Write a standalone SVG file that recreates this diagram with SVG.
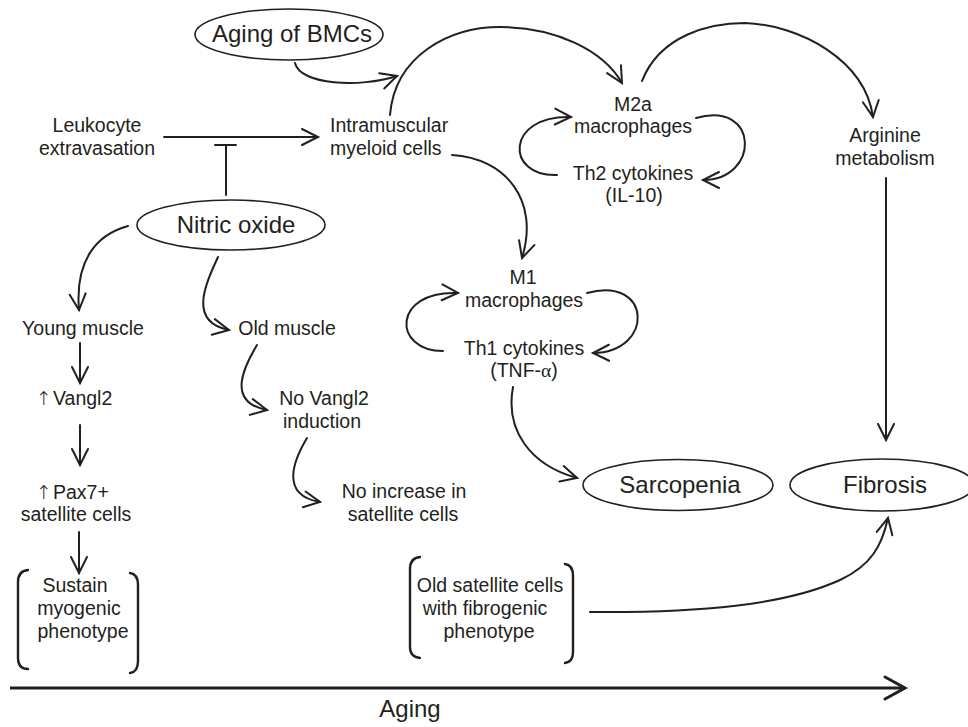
<svg xmlns="http://www.w3.org/2000/svg" width="968" height="727" viewBox="0 0 968 727">
<style>
  text { font-family: "Liberation Sans", Arial, "DejaVu Sans", sans-serif; fill: #231f20; }
  .s { font-size: 19.5px; }
  .b { font-size: 24px; }
  .m { text-anchor: middle; }
  .up { font-family: "DejaVu Sans", sans-serif; font-size: 19px; font-weight: 200; }
  .c { fill: none; stroke: #231f20; stroke-width: 2; stroke-linecap: round; }
  .e { fill: #fff; stroke: #231f20; stroke-width: 1.6; }
  .br { fill: none; stroke: #231f20; stroke-width: 2.4; stroke-linecap: round; }
</style>
<defs>
  <marker id="ah" markerUnits="userSpaceOnUse" markerWidth="40" markerHeight="40" viewBox="-20 -20 40 40" refX="0" refY="0" orient="auto">
    <path d="M -16 -8 L 0 0 L -16 8" fill="none" stroke="#231f20" stroke-width="2" stroke-linecap="round" stroke-linejoin="miter"/>
  </marker>
  <marker id="ahBig" markerUnits="userSpaceOnUse" markerWidth="50" markerHeight="50" viewBox="-25 -25 50 50" refX="0" refY="0" orient="auto">
    <path d="M -20 -11 L 0 0 L -20 11" fill="none" stroke="#231f20" stroke-width="3" stroke-linecap="round"/>
  </marker>
</defs>

<g id="connectors">
  <path class="c" d="M 295 63 C 300 85 360 88 397 76" marker-end="url(#ah)"/>
  <path class="c" d="M 390 115 C 395 55 450 27 500 27 C 555 27 603 50 622 83" marker-end="url(#ah)"/>
  <path class="c" d="M 642 81 C 660 35 710 23 745 23 C 800 25 865 60 873 117" marker-end="url(#ah)"/>
  <path class="c" d="M 164 137 L 318 137" marker-end="url(#ah)"/>
  <path class="c" d="M 226 195 L 226 146 M 215 145 L 236 145"/>
  <path class="c" d="M 452 155 C 505 158 540 200 522 258" marker-end="url(#ah)"/>
  <path class="c" d="M 557 175 C 505 177 505 115 571 117" marker-end="url(#ah)"/>
  <path class="c" d="M 696 118 C 760 100 760 180 703 180" marker-end="url(#ah)"/>
  <path class="c" d="M 443 351 C 392 351 392 290 458 293" marker-end="url(#ah)"/>
  <path class="c" d="M 587 293 C 652 275 655 352 593 353" marker-end="url(#ah)"/>
  <path class="c" d="M 513 387 C 505 430 530 465 577 478" marker-end="url(#ah)"/>
  <path class="c" d="M 886 178 L 886 440" marker-end="url(#ah)"/>
  <path class="c" d="M 128 226 C 95 235 75 262 79 310" marker-end="url(#ah)"/>
  <path class="c" d="M 218 257 C 205 285 188 322 229 330" marker-end="url(#ah)"/>
  <path class="c" d="M 80 343 L 80 383" marker-end="url(#ah)"/>
  <path class="c" d="M 80 425 L 80 465" marker-end="url(#ah)"/>
  <path class="c" d="M 79 532 L 79 573" marker-end="url(#ah)"/>
  <path class="c" d="M 257 345 C 245 365 225 402 267 410" marker-end="url(#ah)"/>
  <path class="c" d="M 307 438 C 295 458 278 495 320 502" marker-end="url(#ah)"/>
  <path class="c" d="M 590 612 C 700 613 785 605 840 580 C 872 565 882 545 888 518" marker-end="url(#ah)"/>
  <path d="M 10 688 L 905 688" fill="none" stroke="#231f20" stroke-width="3" marker-end="url(#ahBig)"/>
</g>

<g id="aging-bmcs">
  <ellipse class="e" cx="289" cy="34.5" rx="94" ry="25.5"/>
  <text class="b m" x="292" y="42">Aging of BMCs</text>
</g>
<g id="leukocyte">
  <text class="s m" x="97" y="132">Leukocyte</text>
  <text class="s m" x="97" y="155">extravasation</text>
</g>
<g id="intramuscular">
  <text class="s" x="330" y="132">Intramuscular</text>
  <text class="s" x="330" y="155">myeloid cells</text>
</g>
<g id="m2a">
  <text class="s m" x="633" y="111">M2a</text>
  <text class="s m" x="633" y="133">macrophages</text>
</g>
<g id="th2">
  <text class="s m" x="633" y="180">Th2 cytokines</text>
  <text class="s m" x="634" y="202">(IL-10)</text>
</g>
<g id="arginine">
  <text class="s m" x="885" y="142">Arginine</text>
  <text class="s m" x="885" y="165">metabolism</text>
</g>
<g id="nitric-oxide">
  <ellipse class="e" cx="231" cy="225" rx="94" ry="25"/>
  <text class="b m" x="236" y="233">Nitric oxide</text>
</g>
<g id="m1">
  <text class="s m" x="523" y="284">M1</text>
  <text class="s m" x="524" y="307">macrophages</text>
</g>
<g id="th1">
  <text class="s m" x="524" y="355">Th1 cytokines</text>
  <text class="s m" x="524" y="377">(TNF-<tspan font-family="'Liberation Serif', serif">α</tspan>)</text>
</g>
<g id="young-muscle">
  <text class="s m" x="83" y="335">Young muscle</text>
</g>
<g id="old-muscle">
  <text class="s m" x="287" y="335">Old muscle</text>
</g>
<g id="vangl2">
  <text class="s" x="36" y="405"><tspan class="up">↑</tspan><tspan x="53">Vangl2</tspan></text>
</g>
<g id="no-vangl2">
  <text class="s m" x="324" y="405">No Vangl2</text>
  <text class="s m" x="322" y="428">induction</text>
</g>
<g id="pax7">
  <text class="s" x="36" y="499"><tspan class="up">↑</tspan><tspan x="53">Pax7+</tspan></text>
  <text class="s m" x="76" y="521">satellite cells</text>
</g>
<g id="no-increase">
  <text class="s m" x="404" y="498">No increase in</text>
  <text class="s m" x="403" y="521">satellite cells</text>
</g>
<g id="sarcopenia">
  <ellipse class="e" cx="678" cy="485" rx="95" ry="25.5"/>
  <text class="b m" x="680" y="493">Sarcopenia</text>
</g>
<g id="fibrosis">
  <ellipse class="e" cx="882" cy="485" rx="92" ry="26"/>
  <text class="b m" x="885" y="493">Fibrosis</text>
</g>
<g id="sustain">
  <path class="br" d="M 28 570 Q 18 571 18 582 L 18 658 Q 18 669 28 669"/>
  <path class="br" d="M 130 573 Q 138 574 138 585 L 138 661 Q 138 672 130 673"/>
  <text class="s m" x="75" y="592">Sustain</text>
  <text class="s m" x="79" y="615">myogenic</text>
  <text class="s m" x="83" y="638">phenotype</text>
</g>
<g id="old-satellite">
  <path class="br" d="M 420 557 Q 410 558 410 569 L 410 647 Q 410 657 420 658"/>
  <path class="br" d="M 565 564 Q 573 565 573 576 L 573 652 Q 573 662 565 663"/>
  <text class="s m" x="490" y="592">Old satellite cells</text>
  <text class="s m" x="485" y="615">with fibrogenic</text>
  <text class="s m" x="489" y="638">phenotype</text>
</g>
<g id="aging">
  <text class="b m" x="410" y="717">Aging</text>
</g>
</svg>
